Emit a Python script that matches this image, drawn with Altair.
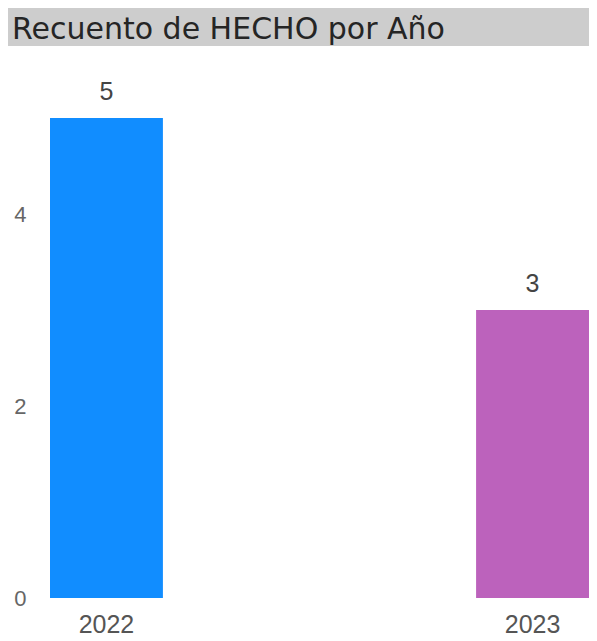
import altair as alt
import pandas as pd

years = ["2022", "2023"]
counts = [5, 3]
colors = ["#118DFF", "#BC62BC"]
title_text = "Recuento de HECHO por Año"

df = pd.DataFrame({"Año": years, "Recuento": counts, "color": colors})

x = alt.X("Año:N", sort=years,
          scale=alt.Scale(paddingInner=0.735, paddingOuter=0),
          axis=alt.Axis(title=None, labelAngle=0, ticks=False, domain=False,
                        labelFontSize=25, labelColor="#555555", labelPadding=14,
                        labelFont="Liberation Sans"))
y = alt.Y("Recuento:Q", scale=alt.Scale(domain=[0, 5], nice=False),
          axis=alt.Axis(title=None, values=[0, 2, 4], grid=False, ticks=False,
                        domain=False, labelFontSize=22, labelColor="#666666",
                        labelPadding=24, labelFont="Liberation Sans"))

base = alt.Chart(df)
bars = base.mark_bar().encode(x=x, y=y, color=alt.Color("color:N", scale=None))
labels = base.mark_text(baseline="bottom", dy=-13, fontSize=25, color="#444444",
                        font="Liberation Sans").encode(
    x=x, y=y, text=alt.Text("Recuento:Q"))

tdf = pd.DataFrame({"t": [title_text]})
title_bg = alt.Chart(tdf).mark_rect(color="#CDCDCD").encode(
    x=alt.value(-42), x2=alt.value(539), y=alt.value(-110), y2=alt.value(-72))
title_txt = alt.Chart(tdf).mark_text(align="left", baseline="alphabetic", fontSize=30,
                                     color="#252525", font="DejaVu Sans").encode(
    x=alt.value(-38), y=alt.value(-79), text="t:N")

chart = alt.layer(title_bg, title_txt, bars, labels).properties(
    width=539, height=480,
    autosize=alt.AutoSizeParams(type="none"),
    padding={"left": 42, "top": 110, "right": 0, "bottom": 43},
).configure_view(stroke=None)

chart.save("out.html", embed_options={"renderer": "svg", "actions": False})
